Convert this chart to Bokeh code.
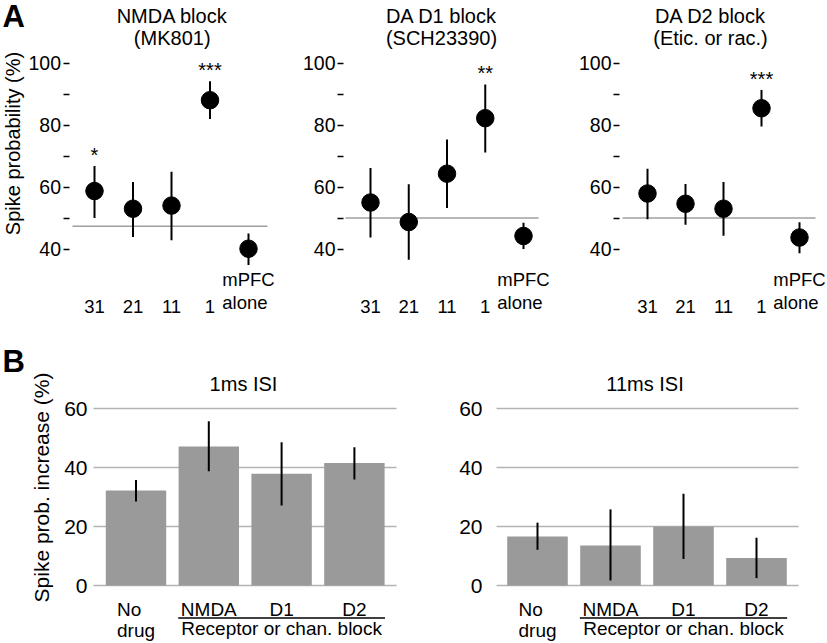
import math
from bokeh.plotting import figure
from bokeh.layouts import column, row
from bokeh.models import Range1d, FixedTicker, Label, LabelSet, ColumnDataSource
from bokeh.core.properties import value
from bokeh.embed import file_html
from bokeh.resources import INLINE

FONT = "Liberation Sans"

# ---------------- Panel A data ----------------
dose_labels = ["31", "21", "11", "1", "mPFC\nalone"]

nmda_title = ["NMDA block", "(MK801)"]
nmda_mean = [58.7, 53.0, 54.0, 88.0, 40.1]
nmda_upper = [66.8, 61.6, 64.9, 94.1, 45.0]
nmda_lower = [50.0, 43.9, 42.8, 81.9, 34.8]
nmda_sig = ["*", "", "", "***", ""]
nmda_chance = 47.3

d1_title = ["DA D1 block", "(SCH23390)"]
d1_mean = [55.0, 48.7, 64.3, 82.2, 44.2]
d1_upper = [66.1, 60.9, 75.3, 93.1, 48.5]
d1_lower = [43.7, 36.5, 53.2, 71.1, 40.0]
d1_sig = ["", "", "", "**", ""]
d1_chance = 50.0

d2_title = ["DA D2 block", "(Etic. or rac.)"]
d2_mean = [57.9, 54.6, 53.0, 85.4, 43.7]
d2_upper = [65.9, 61.0, 61.6, 91.3, 48.6]
d2_lower = [49.6, 47.8, 44.3, 79.5, 38.6]
d2_sig = ["", "", "", "***", ""]
d2_chance = 50.0

a_yticks = [40, 60, 80, 100]
a_yminor = [50, 70, 90]
a_ylabel = "Spike probability (%)"

# ---------------- Panel B data ----------------
drug_labels = ["No\ndrug", "NMDA", "D1", "D2"]
drug_group = ["", "Receptor or chan. block", "Receptor or chan. block",
              "Receptor or chan. block"]

isi1_title = "1ms ISI"
isi1_mean = [32.2, 47.1, 37.9, 41.5]
isi1_upper = [35.8, 55.7, 48.6, 46.9]
isi1_lower = [28.5, 38.7, 27.1, 35.9]

isi11_title = "11ms ISI"
isi11_mean = [16.6, 13.6, 20.0, 9.3]
isi11_upper = [21.3, 25.8, 31.1, 16.2]
isi11_lower = [12.1, 1.7, 9.0, 2.5]

b_yticks = [0, 20, 40, 60]
b_ylabel = "Spike prob. increase (%)"


class Geo:
    """Maps page pixel positions to data coordinates for one figure."""

    def __init__(self, left, top, width, height, px0, sx, v0, py0, sy):
        self.left, self.top, self.width, self.height = left, top, width, height
        self.px0, self.sx, self.v0, self.py0, self.sy = px0, sx, v0, py0, sy

    def dx(self, px):
        return (px - self.px0) / self.sx

    def dy(self, py):
        return self.v0 + (self.py0 - py) / self.sy

    def xr(self):
        return Range1d(self.dx(self.left), self.dx(self.left + self.width))

    def yr(self):
        return Range1d(self.dy(self.top + self.height), self.dy(self.top))


def make_fig(g):
    p = figure(width=g.width, height=g.height, x_range=g.xr(), y_range=g.yr(),
               x_axis_location=None, toolbar_location=None, output_backend="svg",
               min_border=0, min_border_left=0, min_border_right=0,
               min_border_top=0, min_border_bottom=0,
               outline_line_color=None, background_fill_color="white",
               border_fill_color="white")
    p.grid.visible = False
    return p


def txt(p, g, text, px, py, size, align="center", baseline="middle", **kw):
    p.add_layout(Label(x=g.dx(px), y=g.dy(py), text=text, text_font=FONT,
                       text_font_size=size, text_color="black",
                       text_align=align, text_baseline=baseline, **kw))


def style_axis(ax, ticks, minor, tick_len, standoff, size):
    ax.ticker = FixedTicker(ticks=ticks, minor_ticks=minor)
    ax.axis_line_color = None
    ax.major_tick_in = 0
    ax.minor_tick_in = 0
    ax.major_tick_out = tick_len
    ax.minor_tick_out = tick_len
    ax.major_tick_line_color = "black" if tick_len else None
    ax.minor_tick_line_color = "black" if tick_len else None
    ax.major_tick_line_width = 1.3
    ax.minor_tick_line_width = 1.3
    ax.major_label_standoff = standoff
    ax.major_label_text_font = FONT
    ax.major_label_text_font_size = size
    ax.major_label_text_color = "black"


def panel_a(g, title, means, uppers, lowers, sigs, chance, axis_px, line_px,
            title_px, letter=None, ylabel=None):
    p = make_fig(g)
    xs = list(range(len(means)))
    src = ColumnDataSource(dict(x=xs, m=means, lo=lowers, hi=uppers,
                                lab=dose_labels, sig=sigs))
    # chance level line
    p.segment(x0=g.dx(line_px[0]), y0=chance, x1=g.dx(line_px[1]), y1=chance,
              line_color="#a0a0a0", line_width=1.5)
    p.segment("x", "lo", "x", "hi", source=src, line_color="black", line_width=2)
    p.scatter("x", "m", source=src, size=17.5, color="black")

    ax = p.yaxis[0]
    ax.fixed_location = g.dx(axis_px)
    style_axis(ax, a_yticks, a_yminor, 6, 2, "19.5px")

    p.add_layout(LabelSet(x="x", y="hi", text="sig", source=src, y_offset=4,
                          text_align="center", text_baseline="alphabetic",
                          text_font=value(FONT), text_font_size="20px",
                          text_color="black"))
    p.add_layout(LabelSet(x="x", y=g.dy(312), text="lab", source=src,
                          text_align="center", text_baseline="bottom",
                          text_font=value(FONT), text_font_size="18.5px",
                          text_line_height=1.05, text_color="black"))
    txt(p, g, title[0], title_px, 15, "20px")
    txt(p, g, title[1], title_px, 37, "20px")
    if ylabel:
        txt(p, g, ylabel, 12, 143, "20px", angle=math.pi / 2)
    if letter:
        txt(p, g, letter, 2, 16, "31px", align="left", text_font_style="bold")
    return p


def panel_b(g, title, means, uppers, lowers, axis_px, grid_px, title_px,
            standoff, letter=None, ylabel=None):
    p = make_fig(g)
    # horizontal grid lines at the y ticks
    p.segment(x0=g.dx(grid_px[0]), y0=b_yticks, x1=g.dx(grid_px[1]), y1=b_yticks,
              line_color="#b3b3b3", line_width=1.5)
    ax = p.yaxis[0]
    ax.fixed_location = g.dx(axis_px)
    style_axis(ax, b_yticks, [], 0, standoff, "21px")

    xs = list(range(len(means)))
    src = ColumnDataSource(dict(x=xs, m=means, lo=lowers, hi=uppers, lab=drug_labels))
    p.vbar(x="x", top="m", bottom=0, width=0.83, source=src,
           fill_color="#9a9a9a", line_color=None)
    p.segment("x", "lo", "x", "hi", source=src, line_color="black", line_width=2)
    p.add_layout(LabelSet(x="x", y=g.dy(598), text="lab", source=src,
                          text_align="center", text_baseline="top",
                          text_font=value(FONT), text_font_size="19px",
                          text_line_height=1.0, text_color="black"))
    grp_idx = [i for i, gname in enumerate(drug_group) if gname]
    gname = drug_group[grp_idx[0]]
    p.segment(x0=min(grp_idx) - 0.42, y0=g.dy(617.5), x1=max(grp_idx) + 0.42,
              y1=g.dy(617.5), line_color="black", line_width=1.5)
    p.add_layout(Label(x=sum(grp_idx) / len(grp_idx), y=g.dy(617), text=gname,
                       text_font=FONT, text_font_size="19px", text_align="center",
                       text_baseline="top", text_color="black"))
    txt(p, g, title, title_px, 383, "20px")
    if ylabel:
        txt(p, g, ylabel, 41, 487, "21px", angle=math.pi / 2)
    if letter:
        txt(p, g, letter, 2, 361, "31px", align="left", text_font_style="bold")
    return p


gA1 = Geo(0, 0, 280, 318, 94, 38.5, 40, 248.5, 3.1)
gA2 = Geo(280, 0, 271, 318, 370, 38.25, 40, 248.5, 3.1)
gA3 = Geo(551, 0, 276, 318, 647, 38.0, 40, 248.5, 3.1)
gB1 = Geo(0, 318, 420, 325, 135.5, 72.8, 0, 585, 2.95)
gB2 = Geo(420, 318, 407, 325, 537, 73.0, 0, 585, 2.95)

a1 = panel_a(gA1, nmda_title, nmda_mean, nmda_upper, nmda_lower, nmda_sig,
             nmda_chance, 68.5, (72, 267), 171.7, letter="A", ylabel=a_ylabel)
a2 = panel_a(gA2, d1_title, d1_mean, d1_upper, d1_lower, d1_sig, d1_chance,
             343, (345, 538), 441)
a3 = panel_a(gA3, d2_title, d2_mean, d2_upper, d2_lower, d2_sig, d2_chance,
             619, (622, 815), 710)

b1 = panel_b(gB1, isi1_title, isi1_mean, isi1_upper, isi1_lower, 93, (93, 396),
             243, 6, letter="B", ylabel=b_ylabel)
b2 = panel_b(gB2, isi11_title, isi11_mean, isi11_upper, isi11_lower, 496,
             (496, 798), 644.5, 14)

layout = column(row(a1, a2, a3), row(b1, b2))

open("out.html", "w").write(file_html(layout, INLINE))
